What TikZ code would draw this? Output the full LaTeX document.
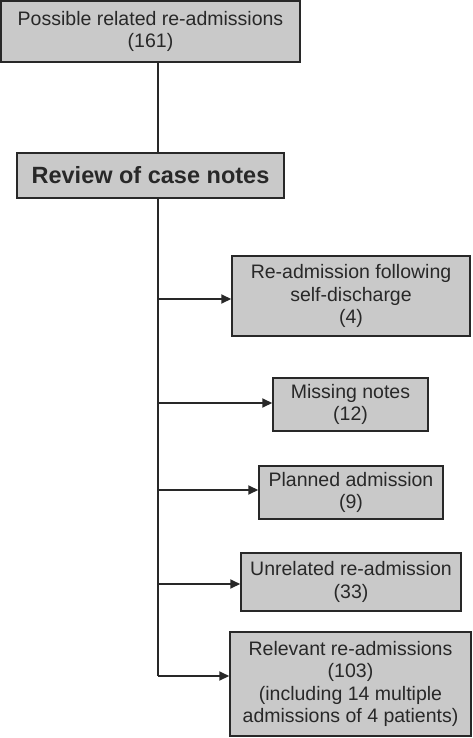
\documentclass[tikz,border=0pt]{standalone}
\usepackage{fontspec}
\setmainfont{Liberation Sans}
\usepackage{xcolor}
\usetikzlibrary{arrows.meta}

\definecolor{boxgray}{RGB}{201,201,201}
\definecolor{edgegray}{RGB}{40,40,40}

\tikzset{
  stepbox/.style={draw=edgegray, fill=boxgray, line width=1.5pt, inner sep=0pt,
    align=center, text=edgegray, font=\fontsize{19.5}{22.5}\selectfont},
  link/.style={draw=edgegray, line width=2pt}
}

\begin{document}
\begin{tikzpicture}[x=1pt, y=-1pt]
\useasboundingbox (0,0) rectangle (472,738);

\node[stepbox, minimum width=299pt, minimum height=61pt] at (150.5,31.5) (possible)
  {Possible related re-admissions\\(161)};
\node[stepbox, minimum width=267pt, minimum height=45pt,
  font=\fontsize{23.5}{26}\selectfont\bfseries] at (150.5,175.5) (review)
  {Review of case notes};

\node[stepbox, minimum width=238pt, minimum height=80pt] at (351,296) (selfdis)
  {Re-admission following\\self-discharge\\(4)};
\node[stepbox, minimum width=155pt, minimum height=53pt] at (350.5,404.5) (missing)
  {Missing notes\\(12)};
\node[stepbox, minimum width=184pt, minimum height=53pt] at (351,492.5) (planned)
  {Planned admission\\(9)};
\node[stepbox, minimum width=220pt, minimum height=58pt] at (351,582) (unrelated)
  {Unrelated re-admission\\(33)};
\node[stepbox, minimum width=241pt, minimum height=104pt] at (350.5,684) (relevant)
  {Relevant re-admissions\\(103)\\(including 14 multiple\\admissions of 4 patients)};

\coordinate (trunk) at (158,0);
\coordinate (t1) at (158,299);
\coordinate (t2) at (158,403);
\coordinate (t3) at (158,490);
\coordinate (t4) at (158,584);
\coordinate (t5) at (158,676);

\draw[link] (possible.south -| trunk) -- (review.north -| trunk);
\draw[link] (review.south -| trunk) -- (t5);

\draw[link, -{Triangle[length=10pt,width=9pt]}] (t1) -- (t1 -| selfdis.west);
\draw[link, -{Triangle[length=10pt,width=9pt]}] (t2) -- (t2 -| missing.west);
\draw[link, -{Triangle[length=10pt,width=9pt]}] (t3) -- (t3 -| planned.west);
\draw[link, -{Triangle[length=10pt,width=9pt]}] (t4) -- (t4 -| unrelated.west);
\draw[link, -{Triangle[length=10pt,width=9pt]}] (t5) -- (t5 -| relevant.west);
\end{tikzpicture}
\end{document}
